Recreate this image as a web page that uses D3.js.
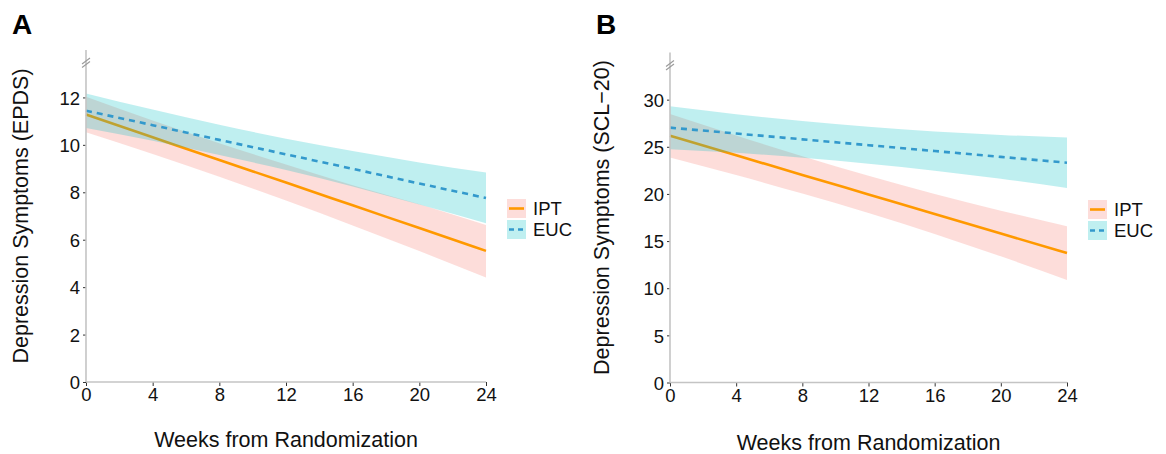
<!DOCTYPE html>
<html><head><meta charset="utf-8">
<script src="https://cdn.jsdelivr.net/npm/d3@7"></script>
<style>
html,body{margin:0;padding:0;background:#fff;}
svg{display:block;font-family:"Liberation Sans",Arial,sans-serif;}
</style></head>
<body>
<svg id="chart" width="1166" height="454"></svg>
<script>
// ---- data ----
const weeks = [0, 4, 8, 12, 16, 20, 24];
const xTicks = [0, 4, 8, 12, 16, 20, 24];
const seriesNames = ["IPT", "EUC"];

// Panel A: EPDS
const epdsTicks = [0, 2, 4, 6, 8, 10, 12];
const epdsIPT     = [11.28, 10.32, 9.36, 8.41, 7.45, 6.49, 5.53];
const epdsIPTLow  = [10.53, 9.61, 8.65, 7.65, 6.60, 5.52, 4.41];
const epdsIPTHigh = [12.03, 11.03, 10.07, 9.17, 8.30, 7.50, 6.62];
const epdsEUC     = [11.44, 10.83, 10.21, 9.60, 8.99, 8.37, 7.76];
const epdsEUCLow  = [10.71, 10.17, 9.57, 8.94, 8.24, 7.48, 6.69];
const epdsEUCHigh = [12.17, 11.49, 10.85, 10.26, 9.74, 9.26, 8.83];

// Panel B: SCL-20
const sclTicks = [0, 5, 10, 15, 20, 25, 30];
const sclIPT     = [26.17, 24.10, 22.02, 19.95, 17.88, 15.80, 13.73];
const sclIPTLow  = [23.87, 22.00, 20.04, 17.97, 15.76, 13.38, 10.88];
const sclIPTHigh = [28.47, 26.20, 24.00, 21.93, 20.00, 18.22, 16.58];
const sclEUC     = [27.03, 26.41, 25.79, 25.17, 24.55, 23.93, 23.31];
const sclEUCLow  = [24.75, 24.36, 23.84, 23.21, 22.47, 21.60, 20.64];
const sclEUCHigh = [29.31, 28.46, 27.74, 27.13, 26.63, 26.26, 25.98];

// ---- styles ----
const colIPTLine = "#FF9900", colEUCLine = "#3399CC";
const colIPTFill = "#F8766D", colEUCFill = "#00BFC4", fillOpacity = 0.25;
const axisGray = "#c4c4c4";

const svg = d3.select("#chart");

function panel(o) {
  const g = svg.append("g");
  const x = d3.scaleLinear().domain([0, 24]).range([o.x0, o.x1]);
  const y = d3.scaleLinear().domain([0, o.ymax]).range([o.yb, o.yt]);

  const area = (lo, hi) => d3.area().curve(d3.curveMonotoneX)
    .x((d, i) => x(weeks[i])).y0((d, i) => y(lo[i])).y1((d, i) => y(hi[i]))(weeks);
  const line = (v) => d3.line().curve(d3.curveMonotoneX)
    .x((d, i) => x(weeks[i])).y((d, i) => y(v[i]))(weeks);

  g.append("path").attr("d", area(o.ipt[1], o.ipt[2])).attr("fill", colIPTFill).attr("fill-opacity", fillOpacity);
  g.append("path").attr("d", line(o.ipt[0])).attr("fill", "none").attr("stroke", colIPTLine).attr("stroke-width", 2.6);
  g.append("path").attr("d", area(o.euc[1], o.euc[2])).attr("fill", colEUCFill).attr("fill-opacity", fillOpacity);
  g.append("path").attr("d", line(o.euc[0])).attr("fill", "none").attr("stroke", colEUCLine)
    .attr("stroke-width", 2.6).attr("stroke-dasharray", "6,5");

  // axes
  const ax = g.append("g").attr("transform", `translate(0,${o.yb})`)
    .call(d3.axisBottom(x).tickValues(xTicks).tickSize(4).tickSizeOuter(0).tickPadding(2));
  const ay = g.append("g").attr("transform", `translate(${o.x0},0)`)
    .call(d3.axisLeft(y).tickValues(o.yTicks).tickSize(3).tickSizeOuter(0).tickPadding(3));
  [ax, ay].forEach(a => {
    a.select(".domain").remove();
    a.selectAll(".tick line").attr("stroke", "#333").attr("stroke-width", 1);
    a.selectAll(".tick text").attr("fill", "#111").style("font-size", "18.5px")
      .style("font-family", '"Liberation Sans",Arial,sans-serif');
  });
  ay.selectAll(".tick text").attr("dy", "0.36em");
  ax.selectAll(".tick text").attr("dy", "0.72em");
  // domain lines
  g.append("line").attr("x1", o.x0).attr("x2", o.x0).attr("y1", o.yb).attr("y2", o.yt)
    .attr("stroke", axisGray).attr("stroke-width", 1.6);
  g.append("line").attr("x1", o.x0).attr("x2", o.x1).attr("y1", o.yb).attr("y2", o.yb)
    .attr("stroke", axisGray).attr("stroke-width", 1.6);
  // axis break marks
  [0, 3.5].forEach(dy => {
    g.append("line").attr("x1", o.x0 - 4).attr("y1", o.yt + 14 + dy).attr("x2", o.x0 + 4).attr("y2", o.yt + 8 + dy)
      .attr("stroke", "#9a9a9a").attr("stroke-width", 1.1);
  });

  // titles
  g.append("text").attr("x", o.x0 - 74).attr("y", 34).text(o.tag)
    .style("font-size", "28px").style("font-weight", "bold").attr("fill", "#000");
  g.append("text").attr("transform", `translate(${o.ytx},${(o.yt + o.yb) / 2}) rotate(-90)`)
    .attr("text-anchor", "middle").attr("dominant-baseline", "central")
    .style("font-size", "21.5px").attr("fill", "#111").text(o.ytitle);
  g.append("text").attr("x", (o.x0 + o.x1) / 2).attr("y", o.xty).attr("text-anchor", "middle")
    .style("font-size", "21.5px").attr("fill", "#111").text("Weeks from Randomization");

  // legend
  const lg = g.append("g").attr("transform", `translate(${o.lx},${o.ly})`);
  seriesNames.forEach((nm, i) => {
    const row = lg.append("g").attr("transform", `translate(0,${i * 21})`);
    row.append("rect").attr("width", 19).attr("height", 19)
      .attr("fill", i === 0 ? colIPTFill : colEUCFill).attr("fill-opacity", fillOpacity);
    row.append("line").attr("x1", 2).attr("x2", 17).attr("y1", 9.5).attr("y2", 9.5)
      .attr("stroke", i === 0 ? colIPTLine : colEUCLine).attr("stroke-width", 2.6)
      .attr("stroke-dasharray", i === 0 ? null : "5,4");
    row.append("text").attr("x", 26).attr("y", 9.5).attr("dominant-baseline", "central")
      .style("font-size", "18.5px").attr("fill", "#111").text(nm);
  });
}

panel({tag: "A", x0: 86, x1: 486, yb: 382, yt: 50, ymax: 14, yTicks: epdsTicks,
  ipt: [epdsIPT, epdsIPTLow, epdsIPTHigh], euc: [epdsEUC, epdsEUCLow, epdsEUCHigh],
  ytitle: "Depression Symptoms (EPDS)", ytx: 21, xty: 447, lx: 507, ly: 199});
panel({tag: "B", x0: 670, x1: 1067, yb: 382.5, yt: 52.5, ymax: 35, yTicks: sclTicks,
  ipt: [sclIPT, sclIPTLow, sclIPTHigh], euc: [sclEUC, sclEUCLow, sclEUCHigh],
  ytitle: "Depression Symptoms (SCL\u221220)", ytx: 602, xty: 450, lx: 1088, ly: 200});
</script>
</body></html>
